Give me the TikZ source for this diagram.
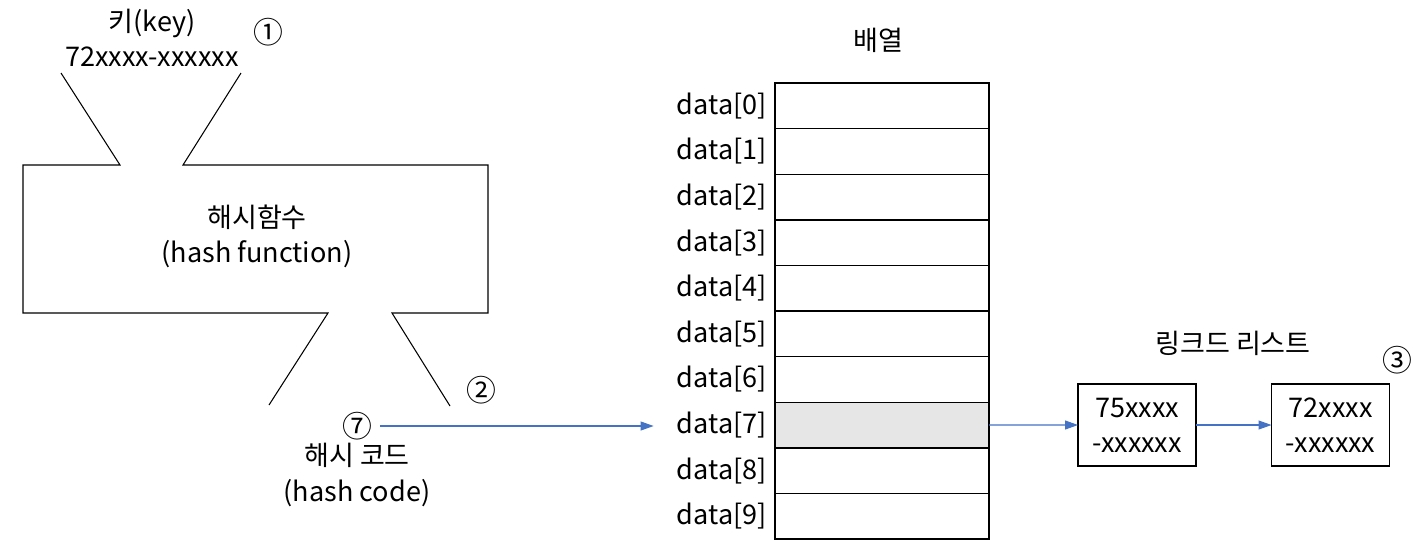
\documentclass[tikz,border=0pt]{standalone}
\usepackage{fontspec}
\setmainfont{Noto Sans CJK KR}
\usetikzlibrary{positioning, arrows.meta}

\definecolor{linkblue}{HTML}{4472C4}
\definecolor{slotgray}{HTML}{E7E6E6}

\begin{document}
\begin{tikzpicture}[
        font=\fontsize{15.4}{20}\selectfont,
        cell/.style={draw, line width=0.8pt, minimum width=4.28cm, minimum height=0.912cm, inner sep=0pt, outer sep=0pt},
        listbox/.style={draw, line width=0.8pt, minimum width=2.36cm, minimum height=1.64cm, align=center, outer sep=0pt},
        idx/.style={left=0.16cm of #1, inner sep=0pt},
        link/.style={-{Triangle[length=2.6mm, width=1.8mm]}, linkblue, line width=0.6pt},
        stepnum/.style={font=\fontsize{17}{17}\selectfont, inner sep=0pt}
    ]
        \useasboundingbox (0,0) rectangle (28.5,-11.08);

        % Key
        \node[align=center] (key) at (3.04,-0.76) {키(key)\\72xxxx-xxxxxx};
        \node[stepnum] (n1) at (5.36,-0.64) {①};

        % Hash function (funnel)
        \draw[line width=0.6pt] (1.22,-1.46) -- (2.40,-3.30) -- (0.46,-3.30) -- (0.46,-6.26)
            -- (6.56,-6.26) -- (5.38,-8.10);
        \draw[line width=0.6pt] (4.82,-1.46) -- (3.66,-3.30) -- (9.76,-3.30) -- (9.76,-6.26)
            -- (7.84,-6.26) -- (9.00,-8.12);
        \node[align=center] (func) at (5.14,-4.72) {해시함수\\(hash function)};
        \node[stepnum] (n2) at (9.62,-7.80) {②};

        % Hash code
        \node[stepnum] (n7) at (7.14,-8.52) {⑦};
        \node[align=center] (code) at (7.14,-9.5) {해시 코드\\(hash code)};

        % Array
        \node (arr) at (17.56,-0.80) {배열};
        \node[cell] (c0) at (17.64,-2.116) {};
        \foreach \i [count=\j from 0] in {1,...,9}
            \node[cell, below=0pt of c\j] (c\i) {};
        \fill[slotgray] (c7.south west) rectangle (c7.north east);
        \draw[line width=0.8pt] (c7.south west) rectangle (c7.north east);
        \foreach \i in {0,...,9}
            \node[idx=c\i] (d\i) {data[\i]};

        % Linked list
        \node (list) at (24.66,-6.86) {링크드 리스트};
        \node[listbox] (b1) at (22.74,-8.50) {75xxxx\\-xxxxxx};
        \node[listbox] (b2) at (26.61,-8.50) {72xxxx\\-xxxxxx};
        \node[stepnum] (n3) at (27.94,-7.20) {③};

        % Links
        \draw[link, shorten <=1.5mm, shorten >=4.6mm] (n7.east) -- (n7.east -| d7.west);
        \draw[link] (c7.east) -- (b1.west);
        \draw[link] (b1.east) -- (b2.west);
    \end{tikzpicture}
\end{document}
